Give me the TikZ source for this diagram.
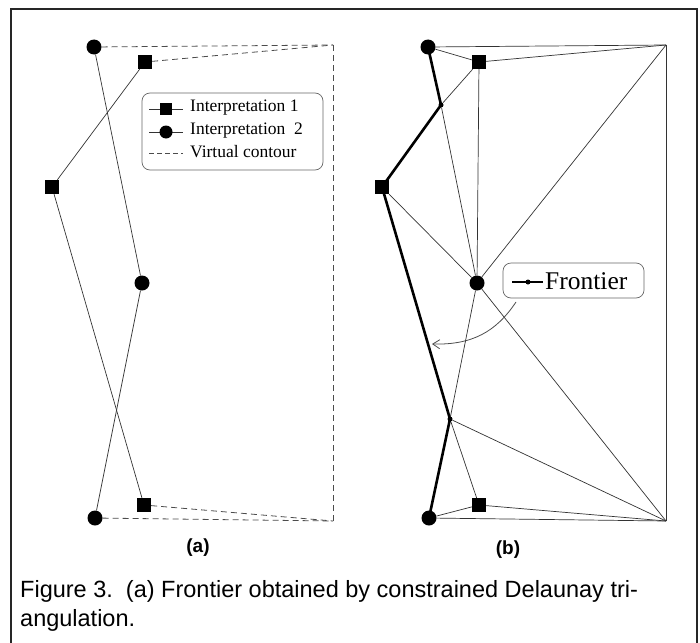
\documentclass[tikz,border=0pt]{standalone}
\usepackage{fontspec}
\setmainfont{Liberation Serif}
\newfontfamily\capfont{Liberation Sans}
\usetikzlibrary{arrows.meta}
\begin{document}
\begin{tikzpicture}[x=1pt,y=-1pt,
  sq/.style={draw=none,fill=black,minimum size=14pt,inner sep=0pt,rectangle},
  ci/.style={draw=none,fill=black,minimum size=15pt,inner sep=0pt,circle},
  jn/.style={draw=none,fill=black,minimum size=5pt,inner sep=0pt,circle},
  thin line/.style={draw=black!80,line width=0.7pt},
  virt/.style={draw=black!70,line width=0.8pt,dash pattern=on 6pt off 4pt},
  front/.style={draw=black,line width=2.6pt},
  lbox/.style={draw=black!60,rounded corners=8pt,line width=0.7pt},
  legtext/.style={anchor=west,inner sep=0pt,font=\fontsize{17.5}{19}\selectfont},
  sublabel/.style={font=\capfont\bfseries\fontsize{19}{21}\selectfont},
  captext/.style={anchor=base west,inner sep=0pt,font=\capfont\fontsize{23.5}{28}\selectfont}
]
\useasboundingbox (0,0) rectangle (700,642);
\draw[line width=1.8pt,black!85] (11,650) -- (11,9) -- (697,9) -- (697,650);

% ---------- panel (a)
\node[ci] (a1) at (94,47) {};
\node[sq] (a2) at (145,62) {};
\node[sq] (a3) at (52,187) {};
\node[ci] (a4) at (142,283) {};
\node[sq] (a5) at (144,505) {};
\node[ci] (a6) at (95,518) {};
\coordinate (atr) at (333,45);
\coordinate (abr) at (333,521);
\draw[thin line] (a2) -- (a3) -- (a5);
\draw[thin line] (a1) -- (a4) -- (a6);
\draw[virt] (a1) -- (atr);
\draw[virt] (a2) -- (atr);
\draw[virt] (atr) -- (abr);
\draw[virt] (a6) -- (abr);
\draw[virt] (a5) -- (abr);

% legend
\node[lbox,minimum width=181pt,minimum height=77pt] (leg) at (232.5,131.5) {};
\coordinate (l1a) at (149,109); \coordinate (l1b) at (183,109);
\coordinate (l2a) at (149,132); \coordinate (l2b) at (183,132);
\coordinate (l3a) at (149,153); \coordinate (l3b) at (183,153);
\draw[thin line] (l1a) -- (l1b);
\draw[thin line] (l2a) -- (l2b);
\draw[draw=black!70,line width=0.7pt,dash pattern=on 5pt off 3pt] (l3a) -- (l3b);
\node[sq,minimum size=12pt] (lsq) at (166,109) {};
\node[ci,minimum size=13pt] (lci) at (166,132) {};
\node[legtext] (t1) at (190,108) {Interpretation 1};
\node[legtext] (t2) at (190,131) {Interpretation\ \ 2};
\node[legtext] (t3) at (190,152) {Virtual contour};

\node[sublabel] (la) at (198,548) {(a)};

% ---------- panel (b)
\node[ci] (b1) at (428,47) {};
\node[sq] (b2) at (479,62) {};
\node[sq] (b3) at (382,187) {};
\node[ci] (b4) at (477,283) {};
\node[sq] (b5) at (479,505) {};
\node[ci] (b6) at (429,518) {};
\node[jn] (j1) at (441,105) {};
\node[jn] (j2) at (450,419) {};
\coordinate (btr) at (666,45);
\coordinate (bbr) at (666,521);

\draw[thin line] (b1) -- (btr);
\draw[thin line] (b1) -- (b2);
\draw[thin line] (b2) -- (btr);
\draw[thin line] (btr) -- (bbr);
\draw[thin line] (b2) -- (j1);
\draw[thin line] (b2) -- (b4);
\draw[thin line] (j1) -- (b4);
\draw[thin line] (btr) -- (b4);
\draw[thin line] (b3) -- (b4);
\draw[thin line] (b4) -- (j2);
\draw[thin line] (b4) -- (bbr);
\draw[thin line] (j2) -- (bbr);
\draw[thin line] (j2) -- (b5);
\draw[thin line] (b5) -- (bbr);
\draw[thin line] (b6) -- (b5);
\draw[thin line] (b6) -- (bbr);
\draw[front] (b1.center) -- (j1.center) -- (b3.center) -- (j2.center) -- (b6.center);

% frontier legend
\node[lbox,minimum width=141pt,minimum height=35pt,fill=white] (fbox) at (573.5,280.5) {};
\coordinate (f1) at (512,282); \coordinate (f2) at (543,282);
\draw[line width=2.2pt] (f1) -- (f2);
\node[jn,minimum size=5pt] (fd) at (528,282) {};
\node[anchor=west,inner sep=0pt,font=\fontsize{25.5}{28}\selectfont] (ft) at (545,281) {Frontier};
\coordinate (fs) at (516,302);
\coordinate (fe) at (432,344);
\draw[black!70,line width=0.8pt,-{Straight Barb[length=7pt,width=9pt]}] (fs) .. controls (496,332) and (472,345) .. (fe);

\node[sublabel] (lb) at (508,550) {(b)};

% caption
\node[captext] (cap1) at (20,597) {Figure 3.\ \ (a) Frontier obtained by constrained Delaunay tri-};
\node[captext] (cap2) at (20,626) {angulation.};
\end{tikzpicture}
\end{document}
